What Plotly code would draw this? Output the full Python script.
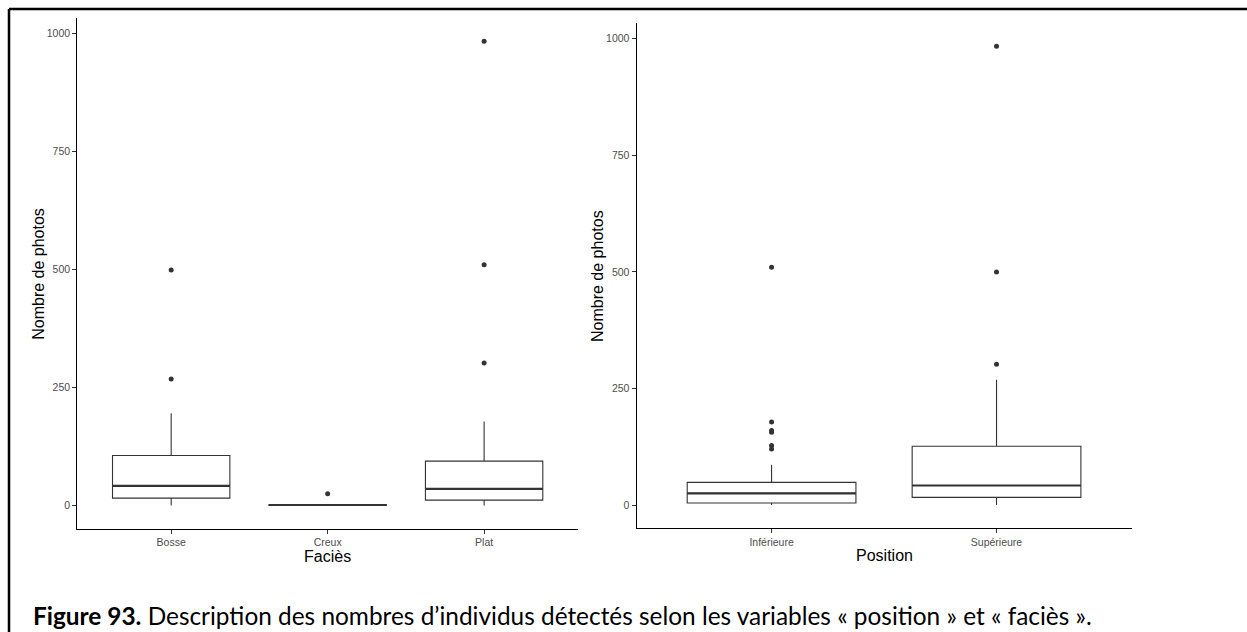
import plotly.graph_objects as go

# ---------------- data ----------------
facies_cats = ["Bosse", "Creux", "Plat"]
facies_q1 = [15.6, 0, 11.4]
facies_median = [41.7, 1, 35.4]
facies_q3 = [105.9, 2, 94.0]
facies_lower = [0, 0, 0]
facies_upper = [195.6, 2, 178.0]
facies_out_cat = ["Bosse", "Bosse", "Creux", "Plat", "Plat", "Plat"]
facies_out_val = [268, 499, 25, 302, 510, 984]

position_cats = ["Inférieure", "Supérieure"]
position_q1 = [4.3, 16.5]
position_median = [25, 42]
position_q3 = [48.6, 126.2]
position_lower = [0, 0]
position_upper = [86.4, 269]
position_out_cat = ["Inférieure"] * 6 + ["Supérieure"] * 3
position_out_val = [120, 128, 156, 160, 178, 510, 302, 500, 984]

y_ticks = [0, 250, 500, 750, 1000]
y_title = "Nombre de photos"
x_title_left = "Faciès"
x_title_right = "Position"
caption_bold = "Figure 93."
caption_text = " Description des nombres d’individus détectés selon les variables « position » et « faciès »."

# ---------------- layout constants ----------------
W, H = 1247, 632
BOX_W = 0.75
LINE_C = "#333333"


def px_x(p):
    return p / W


def px_y(p):
    return 1 - p / H


fig = go.Figure()


def add_panel(cats, q1, med, q3, lo, hi, out_cat, out_val, xa, ya):
    xs = list(range(1, len(cats) + 1))
    fig.add_trace(go.Box(
        x=xs, q1=q1, median=med, q3=q3, lowerfence=lo, upperfence=hi,
        width=BOX_W, whiskerwidth=0, fillcolor="white",
        line=dict(color=LINE_C, width=1.1), boxpoints=False,
        xaxis=xa, yaxis=ya, showlegend=False, hoverinfo="skip"))
    # thicker median line (ggplot style)
    mx, my = [], []
    for x, m in zip(xs, med):
        mx += [x - BOX_W / 2, x + BOX_W / 2, None]
        my += [m, m, None]
    fig.add_trace(go.Scatter(x=mx, y=my, mode="lines",
                             line=dict(color=LINE_C, width=2.2),
                             xaxis=xa, yaxis=ya, showlegend=False, hoverinfo="skip"))
    ox = [cats.index(c) + 1 for c in out_cat]
    fig.add_trace(go.Scatter(x=ox, y=out_val, mode="markers",
                             marker=dict(color=LINE_C, size=5),
                             xaxis=xa, yaxis=ya, showlegend=False, hoverinfo="skip"))
    return xs


xs_left = add_panel(facies_cats, facies_q1, facies_median, facies_q3, facies_lower,
                    facies_upper, facies_out_cat, facies_out_val, "x", "y")
xs_right = add_panel(position_cats, position_q1, position_median, position_q3,
                     position_lower, position_upper, position_out_cat, position_out_val, "x2", "y2")

axis_common = dict(showgrid=False, zeroline=False, showline=True, linecolor="black",
                   linewidth=1.1, ticks="outside", ticklen=4, tickwidth=1.1,
                   tickcolor=LINE_C,
                   tickfont=dict(family="Liberation Sans", size=10.5, color="#4D4D4D"))

ymax = max(max(facies_out_val), max(position_out_val))
yrange = [-0.05 * ymax, ymax * 1.05]

fig.update_layout(
    width=W, height=H, autosize=False,
    margin=dict(l=0, r=0, t=0, b=0),
    paper_bgcolor="white", plot_bgcolor="white",
    showlegend=False,
    xaxis=dict(domain=[px_x(77.3), px_x(578)], range=[0.4, len(facies_cats) + 0.6],
               tickvals=xs_left, ticktext=facies_cats, anchor="y", **axis_common),
    yaxis=dict(domain=[px_y(528.7), px_y(18)], range=yrange, tickvals=y_ticks,
               anchor="x", **axis_common),
    xaxis2=dict(domain=[px_x(636.6), px_x(1131.5)], range=[0.4, len(position_cats) + 0.6],
                tickvals=xs_right, ticktext=position_cats, anchor="y2", **axis_common),
    yaxis2=dict(domain=[px_y(528), px_y(23.3)], range=yrange, tickvals=y_ticks,
                anchor="x2", **axis_common),
)

title_font = dict(family="Liberation Sans", size=16, color="black")
ann = [
    dict(x=px_x(38.3), y=px_y(273.5), text=y_title, textangle=-90, font=title_font),
    dict(x=px_x(597), y=px_y(276), text=y_title, textangle=-90, font=title_font),
    dict(x=px_x(327.5), y=px_y(556), text=x_title_left, font=title_font),
    dict(x=px_x(884), y=px_y(555), text=x_title_right, font=title_font),
]
for a in ann:
    a.update(xref="paper", yref="paper", showarrow=False, xanchor="center", yanchor="middle")
    fig.add_annotation(**a)

fig.add_annotation(x=px_x(31), y=px_y(615), xref="paper", yref="paper", showarrow=False,
                   xanchor="left", yanchor="middle",
                   text=f"<b>{caption_bold}</b>{caption_text}",
                   font=dict(family="Lato", size=24.4, color="black"))

# page frame (document border)
fig.add_shape(type="line", xref="paper", yref="paper", x0=px_x(9), x1=1, y0=px_y(9), y1=px_y(9),
              line=dict(color="black", width=2.5))
fig.add_shape(type="line", xref="paper", yref="paper", x0=px_x(9), x1=px_x(9), y0=px_y(9), y1=0,
              line=dict(color="black", width=2.5))

fig.write_html("out.html")
